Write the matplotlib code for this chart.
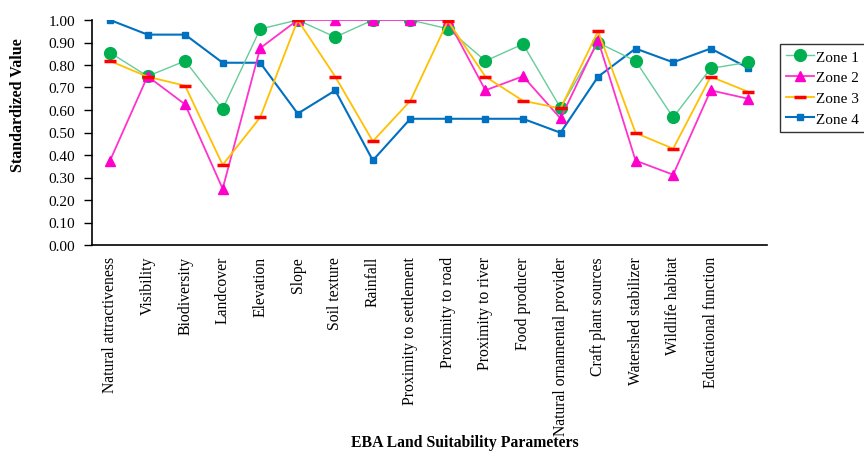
import matplotlib
matplotlib.use("Agg")
import matplotlib.pyplot as plt
import numpy as np

plt.rcParams['font.family'] = ['Liberation Serif', 'DejaVu Serif']

# category labels (last point has no label in the source)
parameters = ['Natural attractiveness', 'Visibility', 'Biodiversity', 'Landcover',
              'Elevation', 'Slope', 'Soil texture', 'Rainfall',
              'Proximity to settlement', 'Proximity to road', 'Proximity to river',
              'Food producer', 'Natural ornamental provider', 'Craft plant sources',
              'Watershed stabilizer', 'Wildlife habitat', 'Educational function', '']

zone1 = [0.855, 0.750, 0.818, 0.604, 0.960, 1.000, 0.924, 1.000, 1.000,
         0.961, 0.818, 0.893, 0.609, 0.899, 0.818, 0.567, 0.785, 0.812]
zone2 = [0.375, 0.750, 0.625, 0.250, 0.875, 1.000, 1.000, 1.000, 1.000,
         1.000, 0.6875, 0.750, 0.5625, 0.910, 0.375, 0.3125, 0.6875, 0.650]
zone3 = [0.818, 0.748, 0.708, 0.356, 0.567, 1.000, 0.748, 0.461, 0.641,
         0.996, 0.748, 0.641, 0.607, 0.950, 0.498, 0.428, 0.748, 0.681]
zone4 = [1.000, 0.935, 0.935, 0.810, 0.810, 0.584, 0.687, 0.376, 0.561,
         0.561, 0.561, 0.561, 0.499, 0.748, 0.873, 0.812, 0.873, 0.787]

fig = plt.figure(figsize=(8.64, 4.52), dpi=100)
ax = fig.add_axes([92/864, 1 - 246/452, (767 - 92)/864, (246 - 21)/452])

x = np.arange(len(parameters))

ax.plot(x, zone1, color='#66cc99', lw=1.0, marker='o', ms=8.5,
        mfc='#00b050', mec='#00b050', label='Zone 1', zorder=3)
ax.plot(x, zone2, color='#ff33cc', lw=1.3, marker='^', ms=7.5,
        mfc='#ff00cc', mec='#ff00cc', label='Zone 2', zorder=4)
ax.plot(x, zone3, color='#ffc000', lw=1.3, marker='_', ms=8, mew=2.5,
        mfc='#ff0000', mec='#ff0000', label='Zone 3', zorder=5)
ax.plot(x, zone4, color='#0070c0', lw=1.5, marker='s', ms=5,
        mfc='#0070c0', mec='#0070c0', label='Zone 4', zorder=2)

ax.set_xlim(-0.48, 17.5)
ax.set_ylim(0, 1.0)
ax.set_yticks(np.arange(0, 1.01, 0.1))
ax.set_yticklabels([f'{v:.2f}' for v in np.arange(0, 1.01, 0.1)], fontsize=11)
ax.set_xticks(x)
ax.set_xticklabels(parameters, rotation=90, fontsize=11.3)
ax.tick_params(axis='x', length=0, pad=8)
ax.tick_params(axis='y', length=6, width=1, pad=6)

for side in ['top', 'right']:
    ax.spines[side].set_visible(False)
for side in ['left', 'bottom']:
    ax.spines[side].set_linewidth(1.2)
    ax.spines[side].set_color('black')

fig.text(18/864, 1 - 105/452, 'Standardized Value', rotation=90, ha='center',
         va='center', fontsize=11.5, fontweight='bold')
fig.text(465/864, 1 - 443/452, 'EBA Land Suitability Parameters', ha='center',
         va='center', fontsize=11.3, fontweight='bold')

leg = fig.legend(loc='upper left', bbox_to_anchor=(780/864, 1 - 45/452),
                 fontsize=11, frameon=True, fancybox=False, edgecolor='black',
                 borderpad=0.4, handlelength=1.8, labelspacing=0.45,
                 handletextpad=0.15, borderaxespad=0)
leg.get_frame().set_linewidth(1.0)

fig.savefig('out.png', dpi=100)
